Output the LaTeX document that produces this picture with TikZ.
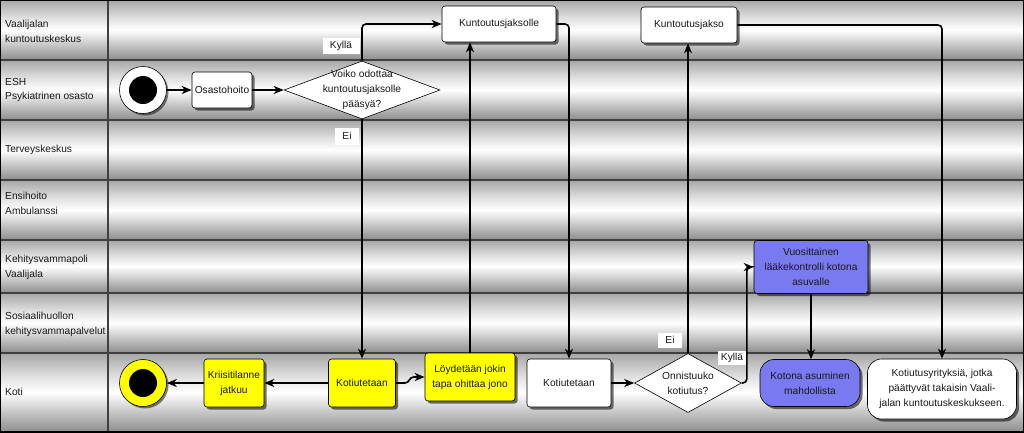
\documentclass[tikz,border=0pt]{standalone}
\usepackage{fontspec}
\setmainfont{Liberation Sans}
\usetikzlibrary{shapes.geometric,shadows,arrows.meta}
\definecolor{mblue}{RGB}{122,122,240}
\definecolor{myellow}{RGB}{255,255,0}
\pgfdeclareverticalshading{laneshade}{100bp}{color(0bp)=(black!45); color(25bp)=(black!45); color(40bp)=(black!18); color(50bp)=(white); color(60bp)=(black!12); color(75bp)=(black!35); color(100bp)=(black!35)}
\tikzset{
  lanebg/.style={shading=laneshade},
  lanesep/.style={draw=black!75, line width=1.5pt},
  lanelabel/.style={anchor=west, align=left, inner sep=0pt, text=black!90},
  box/.style={draw=black, line width=0.6pt, rounded corners=3pt, fill=white, align=center, inner sep=1pt, text=black!90,
    drop shadow={shadow xshift=2.5pt, shadow yshift=-2.5pt, fill=black, opacity=0.55}},
  ybox/.style={box, fill=myellow},
  bbox/.style={box, fill=mblue},
  dec/.style={diamond, draw=black, line width=0.6pt, fill=white, inner sep=0pt},
  startnode/.style={circle, draw=black, line width=0.6pt, fill=white, minimum size=47pt, inner sep=0pt,
    drop shadow={shadow xshift=2pt, shadow yshift=-2pt, fill=black, opacity=0.5},
    path picture={\fill[black] (path picture bounding box.center) circle (14pt);}},
  endnode/.style={startnode, fill=myellow},
  lbl/.style={fill=white, inner sep=0pt, text=black!90},
  conn/.style={draw=black, line width=1.6pt, -{Stealth[length=10pt, width=8pt, inset=3pt]}},
}
\begin{document}
\begin{tikzpicture}[x=1pt, y=-1pt, font=\fontsize{10.2}{14.8}\selectfont]
\useasboundingbox (0,0) rectangle (1024,432);
% lanes
\shade[lanebg] (0,0) rectangle (1024,60);
\shade[lanebg] (0,60) rectangle (1024,120);
\shade[lanebg] (0,120) rectangle (1024,180);
\shade[lanebg] (0,180) rectangle (1024,240);
\shade[lanebg] (0,240) rectangle (1024,293);
\shade[lanebg] (0,293) rectangle (1024,353);
\shade[lanebg] (0,353) rectangle (1024,432);
\foreach \yy in {60,120,180,240,293,353} {\draw[lanesep] (0,\yy) -- (1024,\yy);}
\draw[lanesep] (108,0) -- (108,432);
\draw[black, line width=1.5pt] (0,0) rectangle (1024,432);
% lane labels
\node[lanelabel] (L1) at (5,31) {Vaalijalan\\kuntoutuskeskus};
\node[lanelabel] (L2) at (5,90) {ESH\\Psykiatrinen osasto};
\node[lanelabel] (L3) at (5,150) {Terveyskeskus};
\node[lanelabel] (L4) at (5,203) {Ensihoito\\Ambulanssi};
\node[lanelabel] (L5) at (5,267) {Kehitysvammapoli\\Vaalijala};
\node[lanelabel] (L6) at (5,324) {Sosiaalihuollon\\kehitysvammapalvelut};
\node[lanelabel] (L7) at (5,392) {Koti};
% nodes
\node[startnode] (start) at (143,90) {};
\node[box, minimum width=60pt, minimum height=36pt] (osasto) at (222,90) {Osastohoito};
\node[dec, minimum width=156pt, minimum height=58pt,
  label={[align=center, text=black!90]center:Voiko odottaa\\kuntoutusjaksolle\\pääsyä?}] (d1) at (362,90) {};
\node[box, minimum width=114pt, minimum height=36pt] (kjs) at (499,24) {Kuntoutusjaksolle};
\node[box, minimum width=96pt, minimum height=36pt] (kj) at (689,25) {Kuntoutusjakso};
\node[ybox, minimum width=67pt, minimum height=48pt] (kot1) at (362,383) {Kotiutetaan};
\node[ybox, minimum width=90pt, minimum height=48pt] (loyd) at (470,377) {Löydetään jokin\\tapa ohittaa jono};
\node[box, minimum width=84pt, minimum height=48pt] (kot2) at (569,383) {Kotiutetaan};
\node[dec, minimum width=107pt, minimum height=59pt,
  label={[align=center, text=black!90]center:Onnistuuko\\kotiutus?}] (d2) at (688,383) {};
\node[bbox, minimum width=114pt, minimum height=53pt] (vuos) at (811,267) {Vuosittainen\\lääkekontrolli kotona\\asuvalle};
\node[bbox, rounded corners=14pt, minimum width=100pt, minimum height=47pt] (koto) at (810,383) {Kotona asuminen\\mahdollista};
\node[box, rounded corners=14pt, minimum width=149pt, minimum height=60pt] (kotyr) at (942,389) {Kotiutusyrityksiä, jotka\\päättyvät takaisin Vaali-\\jalan kuntoutuskeskukseen.};
\node[ybox, minimum width=60pt, minimum height=48pt] (kriisi) at (234,383) {Kriisitilanne\\jatkuu};
\node[endnode] (end) at (143,383) {};
% edge labels
\node[lbl, minimum width=37pt, minimum height=16pt] (kyl1) at (341,46) {Kyllä};
\node[lbl, minimum width=24pt, minimum height=17pt] (ei1) at (347,136) {Ei};
\node[lbl, minimum width=24pt, minimum height=15pt] (ei2) at (670,340) {Ei};
\node[lbl, minimum width=29pt, minimum height=14pt] (kyl2) at (732,358) {Kyllä};
% connectors
\draw[conn] (start) -- (osasto);
\draw[conn] (osasto) -- (d1);
\draw[conn, rounded corners=4pt] (d1.north) |- (kjs.west);
\draw[conn] (d1.south) -- (kot1.north);
\draw[conn, rounded corners=4pt] (kjs.east) -| (kot2.north);
\draw[conn] (loyd.north) -- (loyd.north |- kjs.south);
\draw[conn] (kot1.east) -- ++(9,0) .. controls +(5,0) and +(-5,0) .. ++(9,-6) -- (loyd.west);
\draw[conn] (kot1.west) -- (kriisi.east);
\draw[conn] (kriisi.west) -- (end.east);
\draw[conn] (kot2.east) -- (d2.west);
\draw[conn] (d2.north) -- (d2.north |- kj.south);
\draw[conn, rounded corners=4pt] (d2.east) -- ++(5,0) |- (vuos.west);
\draw[conn] (vuos.south) -- (vuos.south |- koto.north);
\draw[conn, rounded corners=4pt] (kj.east) -| (kotyr.north);
\end{tikzpicture}
\end{document}
